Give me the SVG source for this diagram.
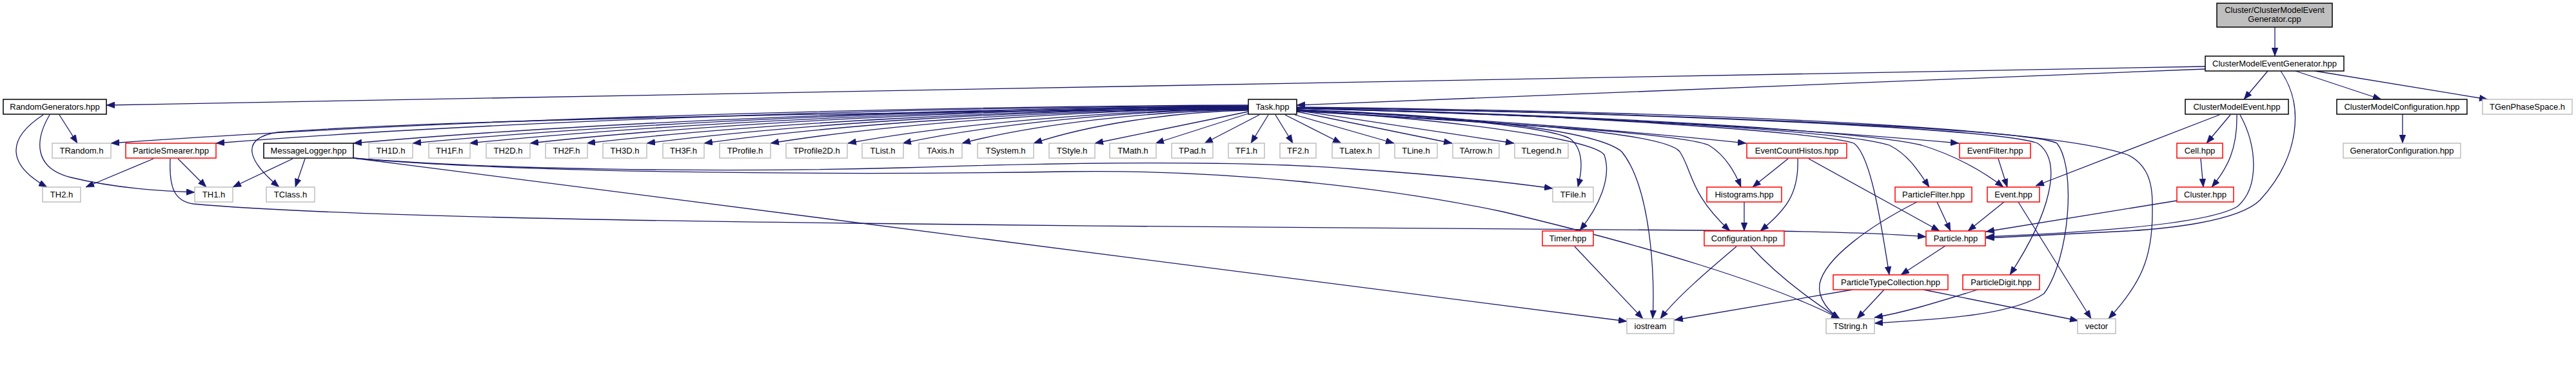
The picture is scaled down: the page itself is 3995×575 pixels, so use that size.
<svg xmlns="http://www.w3.org/2000/svg" width="3995" height="575" viewBox="0 0 3995 575">
<style>
rect{stroke-width:1.5}
.blk{fill:#fff;stroke:#000}
.red{fill:#fff;stroke:#ff0000}
.gry{fill:#fff;stroke:#bfbfbf}
.root{fill:#bfbfbf;stroke:#000}
text{font-family:"Liberation Sans",Arial,sans-serif;font-size:13px;text-anchor:middle;fill:#000}
#edges path{fill:none;stroke:#191970;stroke-width:1.3;marker-end:url(#a)}
</style>
<defs>
<marker id="a" markerUnits="userSpaceOnUse" markerWidth="13" markerHeight="10" refX="13" refY="5" orient="auto">
<path d="M0,0 L13,5 L0,10 z" fill="#191970" stroke="#191970" stroke-width="0.5"/>
</marker>
</defs>
<rect width="3995" height="575" fill="#fff"/>
<g id="edges">
<path d="M3528,42 L3528,87"/>
<path d="M3420,103 L165,163"/>
<path d="M3420,107 L2011,163"/>
<path d="M3517,110 L3480,154"/>
<path d="M3560,110 L3693,154"/>
<path d="M3590,110 L3858,154"/>
<path d="M3537,110 C3575,165 3565,245 3505,310 C3470,345 3350,355 3300,358 L3080,369"/>
<path d="M3442,178 L3157,288"/>
<path d="M3459,178 L3422,222"/>
<path d="M3469,178 C3470,230 3455,260 3430,290"/>
<path d="M3474,178 C3500,225 3505,290 3470,320 C3420,350 3200,362 3080,367"/>
<path d="M3413,246 L3417,290"/>
<path d="M3376,311 L3080,359"/>
<path d="M3726,177 L3726,222"/>
<path d="M92,178 L120,222"/>
<path d="M67,178 C10,215 10,255 73,290"/>
<path d="M77,178 C55,215 50,260 110,275 C180,292 250,296 302,298"/>
<path d="M1936,163 C1319,165 613,190 172,222"/>
<path d="M1936,164 C1376,166 735,190 335,222"/>
<path d="M1936,165 C1450,167 895,191 548,222"/>
<path d="M1936,165 C1482,167 964,191 640,222"/>
<path d="M1936,166 C1513,168 1030,191 728,222"/>
<path d="M1936,166 C1546,168 1100,191 822,222"/>
<path d="M1936,167 C1577,169 1166,192 910,222"/>
<path d="M1936,167 C1609,169 1236,192 1003,222"/>
<path d="M1936,168 C1641,170 1303,192 1092,222"/>
<path d="M1936,168 C1677,170 1380,192 1195,222"/>
<path d="M1936,169 C1719,171 1470,193 1315,222"/>
<path d="M1936,169 C1748,171 1534,193 1400,222"/>
<path d="M1936,170 C1781,172 1603,193 1492,222"/>
<path d="M1936,171 C1819,173 1686,194 1603,222"/>
<path d="M1936,173 L1698,222"/>
<path d="M1936,176 L1792,222"/>
<path d="M1953,178 L1868,222"/>
<path d="M1967,178 L1940,222"/>
<path d="M1936,168 C1300,175 700,185 430,205 C370,215 385,250 433,290"/>
<path d="M1978,178 L2005,222"/>
<path d="M1993,178 L2080,222"/>
<path d="M2008,178 L2162,222"/>
<path d="M2011,173 L2252,222"/>
<path d="M2011,171 L2348,222"/>
<path d="M2011,170 C2200,178 2400,195 2435,215 C2455,230 2455,260 2447,290"/>
<path d="M2011,171 C2250,185 2470,215 2488,240 C2500,275 2480,320 2450,357"/>
<path d="M2011,170 C2300,180 2480,205 2515,235 C2560,290 2567,430 2563,494"/>
<path d="M2011,172 C2350,190 2580,205 2605,235 C2625,265 2620,300 2683,358"/>
<path d="M2011,172 C2300,190 2600,205 2650,225 C2675,240 2690,265 2700,290"/>
<path d="M2011,170 C2300,185 2550,205 2708,222"/>
<path d="M2011,168 C2400,175 2830,205 2875,222 C2900,240 2915,330 2930,426"/>
<path d="M2011,168 C2400,178 2850,200 2930,225 C2960,240 2975,265 2992,290"/>
<path d="M2011,168 C2500,180 2850,205 3038,222"/>
<path d="M2011,168 C2500,178 2900,205 2980,225 C3030,240 3075,265 3107,290"/>
<path d="M2011,167 C2600,175 3100,200 3160,222 C3200,250 3180,330 3117,426"/>
<path d="M2011,167 C2600,175 3150,200 3190,222 C3220,260 3210,400 3170,455 C3120,490 3000,495 2907,501"/>
<path d="M2011,166 C2800,175 3200,205 3300,240 C3340,260 3338,300 3338,330 C3338,400 3320,440 3270,494"/>
<path d="M238,246 L133,290"/>
<path d="M276,246 L320,290"/>
<path d="M264,246 C262,290 270,312 300,316 C450,330 800,340 1320,346 C1800,352 2400,356 2640,357 C2800,358 2930,362 2987,367"/>
<path d="M454,246 L361,290"/>
<path d="M473,246 L458,290"/>
<path d="M548,245 C750,262 1100,268 1400,260 C1700,250 1950,250 2100,262 C2250,272 2350,284 2408,292"/>
<path d="M548,245 C800,268 1300,272 1650,266 C1900,262 2150,290 2330,328 C2550,380 2750,440 2853,494"/>
<path d="M548,245 L2523,498"/>
<path d="M2442,382 L2548,494"/>
<path d="M2693,382 C2660,410 2600,460 2575,494"/>
<path d="M2715,382 C2750,420 2800,460 2853,494"/>
<path d="M2873,449 L2597,496"/>
<path d="M2922,449 L2880,494"/>
<path d="M2983,449 L3223,497"/>
<path d="M3067,449 C3000,470 2950,485 2907,492"/>
<path d="M2973,313 C2900,350 2830,400 2822,440 C2818,465 2840,485 2853,494"/>
<path d="M3004,313 L3025,358"/>
<path d="M3108,313 L3052,358"/>
<path d="M3130,313 L3243,494"/>
<path d="M3099,246 L3113,290"/>
<path d="M2773,246 L2718,290"/>
<path d="M2788,246 C2790,300 2770,325 2730,358"/>
<path d="M2805,246 L3008,358"/>
<path d="M2705,313 L2705,358"/>
<path d="M3017,381 L2948,426"/>
</g>
<g id="root"><rect class="root" x="3438" y="5" width="179" height="37"/><text x="3527.5" y="20">Cluster/ClusterModelEvent</text><text x="3527.5" y="34">Generator.cpp</text></g>
<g id="n_cmeg"><rect class="blk" x="3420" y="87" width="215" height="23"/><text x="3527.5" y="103">ClusterModelEventGenerator.hpp</text></g>
<g id="n_randgen"><rect class="blk" x="5" y="154" width="160" height="23"/><text x="85" y="170">RandomGenerators.hpp</text></g>
<g id="n_task"><rect class="blk" x="1936" y="154" width="75" height="23"/><text x="1973.5" y="170">Task.hpp</text></g>
<g id="n_cme"><rect class="blk" x="3389" y="154" width="160" height="23"/><text x="3469" y="170">ClusterModelEvent.hpp</text></g>
<g id="n_cmc"><rect class="blk" x="3624" y="154" width="202" height="23"/><text x="3725" y="170">ClusterModelConfiguration.hpp</text></g>
<g id="n_tgen"><rect class="gry" x="3850" y="154" width="139" height="23"/><text x="3919.5" y="170">TGenPhaseSpace.h</text></g>
<g id="n_trandom"><rect class="gry" x="81" y="222" width="91" height="23"/><text x="126.5" y="238">TRandom.h</text></g>
<g id="n_psmear"><rect class="red" x="195" y="222" width="140" height="23"/><text x="265" y="238">ParticleSmearer.hpp</text></g>
<g id="n_msglog"><rect class="blk" x="409" y="222" width="139" height="23"/><text x="478.5" y="238">MessageLogger.hpp</text></g>
<g id="n_th1d"><rect class="gry" x="572" y="222" width="68" height="23"/><text x="606" y="238">TH1D.h</text></g>
<g id="n_th1f"><rect class="gry" x="665" y="222" width="64" height="23"/><text x="697" y="238">TH1F.h</text></g>
<g id="n_th2d"><rect class="gry" x="754" y="222" width="68" height="23"/><text x="788" y="238">TH2D.h</text></g>
<g id="n_th2f"><rect class="gry" x="846" y="222" width="65" height="23"/><text x="878.5" y="238">TH2F.h</text></g>
<g id="n_th3d"><rect class="gry" x="935" y="222" width="68" height="23"/><text x="969" y="238">TH3D.h</text></g>
<g id="n_th3f"><rect class="gry" x="1028" y="222" width="64" height="23"/><text x="1060" y="238">TH3F.h</text></g>
<g id="n_tprof"><rect class="gry" x="1116" y="222" width="79" height="23"/><text x="1155.5" y="238">TProfile.h</text></g>
<g id="n_tprof2d"><rect class="gry" x="1219" y="222" width="95" height="23"/><text x="1266.5" y="238">TProfile2D.h</text></g>
<g id="n_tlist"><rect class="gry" x="1337" y="222" width="64" height="23"/><text x="1369" y="238">TList.h</text></g>
<g id="n_taxis"><rect class="gry" x="1425" y="222" width="67" height="23"/><text x="1458.5" y="238">TAxis.h</text></g>
<g id="n_tsystem"><rect class="gry" x="1516" y="222" width="87" height="23"/><text x="1559.5" y="238">TSystem.h</text></g>
<g id="n_tstyle"><rect class="gry" x="1627" y="222" width="71" height="23"/><text x="1662.5" y="238">TStyle.h</text></g>
<g id="n_tmath"><rect class="gry" x="1721" y="222" width="72" height="23"/><text x="1757" y="238">TMath.h</text></g>
<g id="n_tpad"><rect class="gry" x="1817" y="222" width="64" height="23"/><text x="1849" y="238">TPad.h</text></g>
<g id="n_tf1"><rect class="gry" x="1905" y="222" width="56" height="23"/><text x="1933" y="238">TF1.h</text></g>
<g id="n_tf2"><rect class="gry" x="1985" y="222" width="56" height="23"/><text x="2013" y="238">TF2.h</text></g>
<g id="n_tlatex"><rect class="gry" x="2066" y="222" width="73" height="23"/><text x="2102.5" y="238">TLatex.h</text></g>
<g id="n_tline"><rect class="gry" x="2163" y="222" width="66" height="23"/><text x="2196" y="238">TLine.h</text></g>
<g id="n_tarrow"><rect class="gry" x="2253" y="222" width="72" height="23"/><text x="2289" y="238">TArrow.h</text></g>
<g id="n_tlegend"><rect class="gry" x="2349" y="222" width="83" height="23"/><text x="2390.5" y="238">TLegend.h</text></g>
<g id="n_ech"><rect class="red" x="2709" y="222" width="155" height="23"/><text x="2786.5" y="238">EventCountHistos.hpp</text></g>
<g id="n_evfilter"><rect class="red" x="3039" y="222" width="110" height="23"/><text x="3094" y="238">EventFilter.hpp</text></g>
<g id="n_cell"><rect class="red" x="3376" y="222" width="71" height="23"/><text x="3411.5" y="238">Cell.hpp</text></g>
<g id="n_genconf"><rect class="gry" x="3634" y="222" width="182" height="23"/><text x="3725" y="238">GeneratorConfiguration.hpp</text></g>
<g id="n_th2"><rect class="gry" x="66" y="290" width="59" height="23"/><text x="95.5" y="306">TH2.h</text></g>
<g id="n_th1"><rect class="gry" x="302" y="290" width="59" height="23"/><text x="331.5" y="306">TH1.h</text></g>
<g id="n_tclass"><rect class="gry" x="413" y="290" width="75" height="23"/><text x="450.5" y="306">TClass.h</text></g>
<g id="n_tfile"><rect class="gry" x="2408" y="290" width="63" height="23"/><text x="2439.5" y="306">TFile.h</text></g>
<g id="n_histos"><rect class="red" x="2647" y="290" width="116" height="23"/><text x="2705" y="306">Histograms.hpp</text></g>
<g id="n_pfilter"><rect class="red" x="2939" y="290" width="119" height="23"/><text x="2998.5" y="306">ParticleFilter.hpp</text></g>
<g id="n_event"><rect class="red" x="3082" y="290" width="81" height="23"/><text x="3122.5" y="306">Event.hpp</text></g>
<g id="n_cluster"><rect class="red" x="3376" y="290" width="88" height="23"/><text x="3420" y="306">Cluster.hpp</text></g>
<g id="n_timer"><rect class="red" x="2392" y="358" width="79" height="23"/><text x="2431.5" y="374">Timer.hpp</text></g>
<g id="n_config"><rect class="red" x="2643" y="358" width="124" height="23"/><text x="2705" y="374">Configuration.hpp</text></g>
<g id="n_particle"><rect class="red" x="2987" y="358" width="92" height="23"/><text x="3033" y="374">Particle.hpp</text></g>
<g id="n_ptc"><rect class="red" x="2843" y="426" width="178" height="23"/><text x="2932" y="442">ParticleTypeCollection.hpp</text></g>
<g id="n_pdigit"><rect class="red" x="3044" y="426" width="119" height="23"/><text x="3103.5" y="442">ParticleDigit.hpp</text></g>
<g id="n_iostream"><rect class="gry" x="2523" y="494" width="73" height="23"/><text x="2559.5" y="510">iostream</text></g>
<g id="n_tstring"><rect class="gry" x="2832" y="494" width="75" height="23"/><text x="2869.5" y="510">TString.h</text></g>
<g id="n_vector"><rect class="gry" x="3222" y="494" width="59" height="23"/><text x="3251.5" y="510">vector</text></g>
</svg>
